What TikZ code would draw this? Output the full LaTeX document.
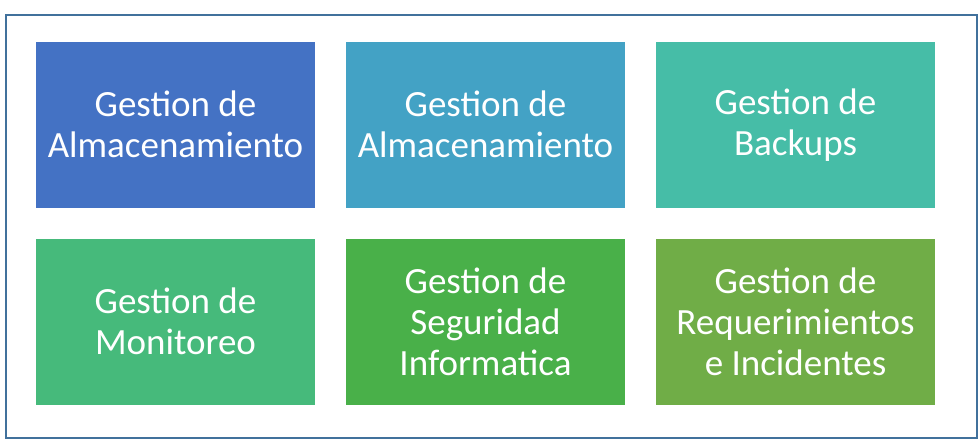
\documentclass[tikz,border=0pt]{standalone}
\usepackage{fontspec}
\setmainfont{Carlito}
\usetikzlibrary{positioning}
\definecolor{c1}{HTML}{4472C4}
\definecolor{c2}{HTML}{43A2C5}
\definecolor{c3}{HTML}{46BDA7}
\definecolor{c4}{HTML}{46BA7B}
\definecolor{c5}{HTML}{49B049}
\definecolor{c6}{HTML}{70AD47}
\definecolor{marco}{HTML}{41719C}
\begin{document}
\begin{tikzpicture}[x=1pt,y=-1pt,
	caja/.style = {minimum width=279pt, minimum height=166pt, inner sep=0pt, outer sep=0pt,
		text=white, align=center, font=\fontsize{37}{41}\selectfont},
	node distance = 31pt and 31pt]
				\useasboundingbox (0,0) rectangle (980,445);
				\draw[marco, line width=2pt] (6,15) rectangle (977,438);
				\node[caja, fill=c1] (1) at (175.5,124.75) {Gestion de\\Almacenamiento};
				\node[caja, fill=c2] (2) [right=of 1] {Gestion de\\Almacenamiento};
				\node[caja, fill=c3] (3) [right=of 2] {Gestion de\\Backups};
				\node[caja, fill=c4] (4) [below=of 1] {Gestion de\\Monitoreo};
				\node[caja, fill=c5] (5) [right=of 4] {Gestion de\\Seguridad\\Informatica};
				\node[caja, fill=c6] (6) [right=of 5] {Gestion de\\Requerimientos\\e Incidentes};
			\end{tikzpicture}
\end{document}
